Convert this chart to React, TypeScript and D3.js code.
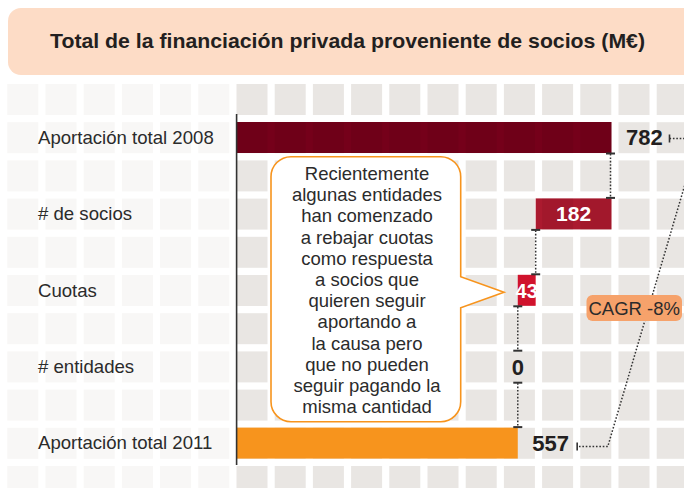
import React from "react";
import * as d3 from "d3";

const TITLE = "Total de la financiación privada proveniente de socios (M€)";
const categories = ["Aportación total 2008", "# de socios", "Cuotas", "# entidades", "Aportación total 2011"];
const values = [782, -182, -43, 0, 557];
const isTotal = [true, false, false, false, true];
const calloutLines = [
  "Recientemente",
  "algunas entidades",
  "han comenzado",
  "a rebajar cuotas",
  "como respuesta",
  "a socios que",
  "quieren seguir",
  "aportando a",
  "la causa pero",
  "que no pueden",
  "seguir pagando la",
  "misma cantidad",
];
const cagrLabel = "CAGR -8%";

const W = 684;
const H = 488;
const FONT = "'Liberation Sans', Arial, Helvetica, sans-serif";
const colors = ["#75001a", "#ab1a2f", "#dc1530", "#333333", "#f7941d"];
const textured = [true, true, true, false, false];

export default function App() {
  const axisX = 236.6;
  const x = d3.scaleLinear().domain([-118, 782]).range([axisX, 611.5]);
  const y = d3.scalePoint<string>().domain(categories).range([137.5, 443.1]);
  const barH = 31;

  // grid
  const pitch = 38.2;
  const cellW = 31;
  const cols = d3.range(18).map((i) => 7.3 + i * pitch);
  const rows = d3.range(11).map((j) => 84 + j * pitch);

  // waterfall computation
  let running = 0;
  const bars = values.map((v, i) => {
    let x0: number, x1: number, end: number;
    if (isTotal[i]) {
      x0 = axisX;
      x1 = x(v);
      end = v;
      running = v;
    } else {
      const start = running;
      end = running + v;
      x0 = x(Math.min(start, end));
      x1 = x(Math.max(start, end));
      running = end;
    }
    return { cat: categories[i], v, x0, x1, end, total: isTotal[i], color: colors[i], tex: textured[i] };
  });

  const cy = (c: string) => y(c) as number;
  const dot = "1.6 1.8";

  // connectors between consecutive bars
  const connectors = bars.slice(0, -1).map((b, i) => {
    const next = bars[i + 1];
    const cx = x(b.end) - (i === 0 ? 1 : 0);
    return { cx, y1: cy(b.cat) + barH / 2, y2: cy(next.cat) - barH / 2 };
  });

  const first = bars[0];
  const last = bars[bars.length - 1];
  const yFirst = cy(first.cat) + 1;
  const yLast = cy(last.cat) + 3.5;
  const capFirst = first.x1 + 58;
  const capLast = last.x1 + 59.4;
  const cagrPath = d3.path();
  cagrPath.moveTo(capFirst, yFirst);
  cagrPath.lineTo(first.x1 + 87, yFirst);
  cagrPath.lineTo(last.x1 + 90, yLast);
  cagrPath.lineTo(capLast, yLast);

  // callout shape
  const bx0 = 271, bx1 = 460.7, by0 = 156.7, by1 = 421.7, r = 20;
  const tipX = 504;
  const tipY = cy(categories[2]) + 2;
  const p = d3.path();
  p.moveTo(bx0 + r, by0);
  p.lineTo(bx1 - r, by0);
  p.arcTo(bx1, by0, bx1, by0 + r, r);
  p.lineTo(bx1, tipY - 15.6);
  p.lineTo(tipX, tipY);
  p.lineTo(bx1, tipY + 15.4);
  p.lineTo(bx1, by1 - r);
  p.arcTo(bx1, by1, bx1 - r, by1, r);
  p.lineTo(bx0 + r, by1);
  p.arcTo(bx0, by1, bx0, by1 - r, r);
  p.lineTo(bx0, by0 + r);
  p.arcTo(bx0, by0, bx0 + r, by0, r);
  p.closePath();

  const cagrCx = 634.2;
  const cagrCy = 308;

  return (
    <svg
      width={W}
      height={H}
      style={{ position: "absolute", left: 0, top: 0, background: "#ffffff" }}
      fontFamily={FONT}
    >
      <defs>
        <clipPath id="barClip">
          {bars.filter((b) => b.x1 - b.x0 > 0 && b.tex).map((b) => (
            <rect key={b.cat} x={b.x0} y={cy(b.cat) - barH / 2} width={b.x1 - b.x0} height={barH} />
          ))}
        </clipPath>
      </defs>
      {/* header */}
      <rect x={8} y={8} width={W + 20} height={67} rx={13} fill="#fddcc6" />
      <text
        x={347.5}
        y={47.7}
        textAnchor="middle"
        fontSize={20.5}
        fontWeight="bold"
        fill="#231f20"
        textLength={595}
        lengthAdjust="spacingAndGlyphs"
      >
        {TITLE}
      </text>

      {/* grid */}
      {rows.map((ry) =>
        cols.map((cx) => (
          <rect
            key={`${cx}-${ry}`}
            x={cx}
            y={ry}
            width={cellW}
            height={cellW}
            fill={cx < axisX - 1 ? "#f8f7f6" : "#e9e6e3"}
          />
        ))
      )}

      {/* category labels */}
      {categories.map((c) => (
        <text key={c} x={38} y={cy(c) + 6.3} fontSize={18.6} fill="#2b2b2b">
          {c}
        </text>
      ))}

      {/* bars */}
      {bars.map((b) =>
        b.x1 - b.x0 > 0 ? (
          <rect key={b.cat} x={b.x0} y={cy(b.cat) - barH / 2} width={b.x1 - b.x0} height={barH} fill={b.color} />
        ) : null
      )}
      <g clipPath="url(#barClip)">
        {rows.map((ry) =>
          cols.filter((cx) => cx > axisX - 1).map((cx) => (
            <rect key={`o${cx}-${ry}`} x={cx} y={ry} width={cellW} height={cellW} fill="#000" opacity={0.05} />
          ))
        )}
      </g>

      {/* axis */}
      <line x1={axisX} x2={axisX} y1={114} y2={465} stroke="#333" strokeWidth={1.6} />

      {/* connectors */}
      {connectors.map((c, i) => (
        <g key={i} stroke="#333">
          <line x1={c.cx} x2={c.cx} y1={c.y1 + 1} y2={c.y2 - 1} strokeWidth={1.5} strokeDasharray={dot} />
          <line x1={c.cx - 4.5} x2={c.cx + 4.5} y1={c.y1 + 0.5} y2={c.y1 + 0.5} strokeWidth={2} />
          <line x1={c.cx - 4.5} x2={c.cx + 4.5} y1={c.y2 - 0.5} y2={c.y2 - 0.5} strokeWidth={2} />
        </g>
      ))}

      {/* CAGR dotted path */}
      <path d={cagrPath.toString()} fill="none" stroke="#333" strokeWidth={1.5} strokeDasharray={dot} />
      <line x1={capFirst} x2={capFirst} y1={yFirst - 4} y2={yFirst + 4} stroke="#333" strokeWidth={1.6} />
      <line x1={capLast} x2={capLast} y1={yLast - 4} y2={yLast + 4} stroke="#333" strokeWidth={1.6} />

      {/* value labels */}
      {bars.map((b) => {
        const yy = cy(b.cat) + 7.8;
        if (b.total) {
          return (
            <text key={b.cat} x={b.x1 + 14.5} y={yy} fontSize={22} fontWeight="bold" fill="#231f20">
              {b.v}
            </text>
          );
        }
        const w = b.x1 - b.x0;
        if (w <= 0) {
          return (
            <text key={b.cat} x={b.x0} y={yy} textAnchor="middle" fontSize={22} fontWeight="bold" fill="#231f20">
              {Math.abs(b.v)}
            </text>
          );
        }
        return (
          <text
            key={b.cat}
            x={(b.x0 + b.x1) / 2}
            y={yy - 0.5}
            textAnchor="middle"
            fontSize={w < 30 ? 20 : 21}
            fontWeight="bold"
            fill="#ffffff"
          >
            {Math.abs(b.v)}
          </text>
        );
      })}

      {/* CAGR box */}
      <rect x={586.5} y={295} width={95.5} height={26} rx={6} fill="#f6a26b" />
      <text x={cagrCx} y={cagrCy + 6.5} textAnchor="middle" fontSize={18.5} fill="#2b2b2b">
        {cagrLabel}
      </text>

      {/* callout */}
      <path d={p.toString()} fill="#ffffff" stroke="#f7941d" strokeWidth={1.6} />
      {calloutLines.map((l, i) => (
        <text key={i} x={367} y={180 + i * 21.2} textAnchor="middle" fontSize={18.5} fill="#2b2b2b">
          {l}
        </text>
      ))}
    </svg>
  );
}
